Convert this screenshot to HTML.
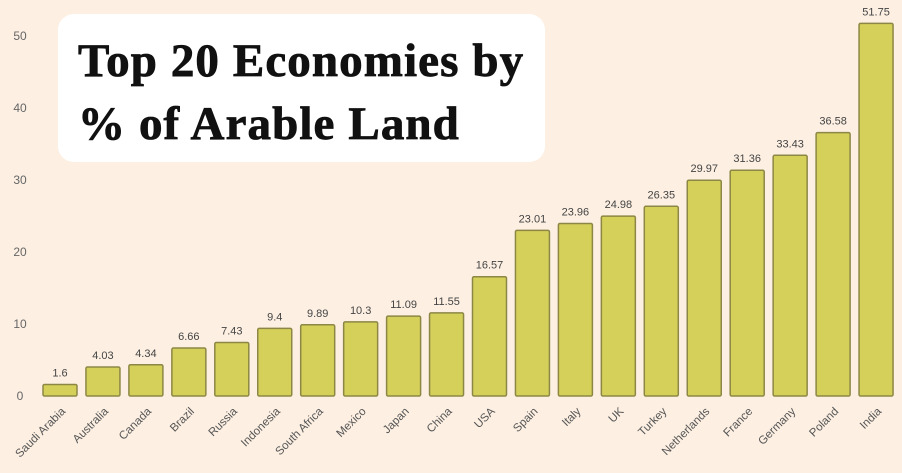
<!DOCTYPE html>
<html><head><meta charset="utf-8"><style>
html,body{margin:0;padding:0;background:#fdf0e3;}
svg{display:block;font-family:"Liberation Sans",sans-serif;}
</style></head><body>
<svg id="chart" width="902" height="473" viewBox="0 0 902 473">
<rect x="0" y="0" width="902" height="473" fill="#fdf0e3"/>
<g id="yaxis"></g>
<g id="bars"></g>
<g>
<rect x="58" y="14" width="487" height="148" rx="16" fill="#ffffff"/>
<text font-family="'Liberation Serif',serif" font-weight="bold" font-size="47" fill="#111" letter-spacing="1.1" stroke="#111" stroke-width="0.8">
<tspan x="78" y="76">Top 20 Economies by</tspan>
<tspan x="78" y="139">% of Arable Land</tspan>
</text>
</g>
</svg>
<script>
const categories=["Saudi Arabia","Australia","Canada","Brazil","Russia","Indonesia","South Africa","Mexico","Japan","China","USA","Spain","Italy","UK","Turkey","Netherlands","France","Germany","Poland","India"];
const values=[1.6,4.03,4.34,6.66,7.43,9.4,9.89,10.3,11.09,11.55,16.57,23.01,23.96,24.98,26.35,29.97,31.36,33.43,36.58,51.75];
const valueLabels=["1.6","4.03","4.34","6.66","7.43","9.4","9.89","10.3","11.09","11.55","16.57","23.01","23.96","24.98","26.35","29.97","31.36","33.43","36.58","51.75"];
const yTicks=[0,10,20,30,40,50];
const NS="http://www.w3.org/2000/svg";
const y0=396, pxPerUnit=7.2;
function yScale(v){return y0-v*pxPerUnit;}
const x0=60, step=42.95, bw=34;
function xScale(i){return x0+i*step;}
const ya=document.getElementById('yaxis'), bars=document.getElementById('bars');
yTicks.forEach(t=>{
  const tx=document.createElementNS(NS,'text');
  
  
  tx.setAttribute('x',20);tx.setAttribute('y',yScale(t)+4);
  tx.setAttribute('text-anchor','middle');tx.setAttribute('font-size','12');tx.setAttribute('fill','#666');
  tx.textContent=t;ya.appendChild(tx);
});
categories.forEach((c,i)=>{
  const cx=xScale(i), v=values[i], top=yScale(v);
  const r=document.createElementNS(NS,'rect');
  
  
  r.setAttribute('x',cx-bw/2);r.setAttribute('y',top);r.setAttribute('width',bw);r.setAttribute('height',y0-top);
  r.setAttribute('rx','1.5');r.setAttribute('fill','#d5d05a');r.setAttribute('stroke','#8c8744');r.setAttribute('stroke-width','1.5');
  bars.appendChild(r);
  const vl=document.createElementNS(NS,'text');
  
  
  vl.setAttribute('x',cx);vl.setAttribute('y',top-8);vl.setAttribute('text-anchor','middle');
  vl.setAttribute('font-size','11');vl.setAttribute('fill','#444');
  vl.textContent=valueLabels[i];bars.appendChild(vl);
  const cl=document.createElementNS(NS,'text');
  
  
  cl.setAttribute('transform','translate('+(cx+6)+','+(y0+16)+') rotate(-45)');
  cl.setAttribute('text-anchor','end');cl.setAttribute('font-size','11.5');cl.setAttribute('fill','#555');
  cl.textContent=c;bars.appendChild(cl);
});
</script>
</body></html>
